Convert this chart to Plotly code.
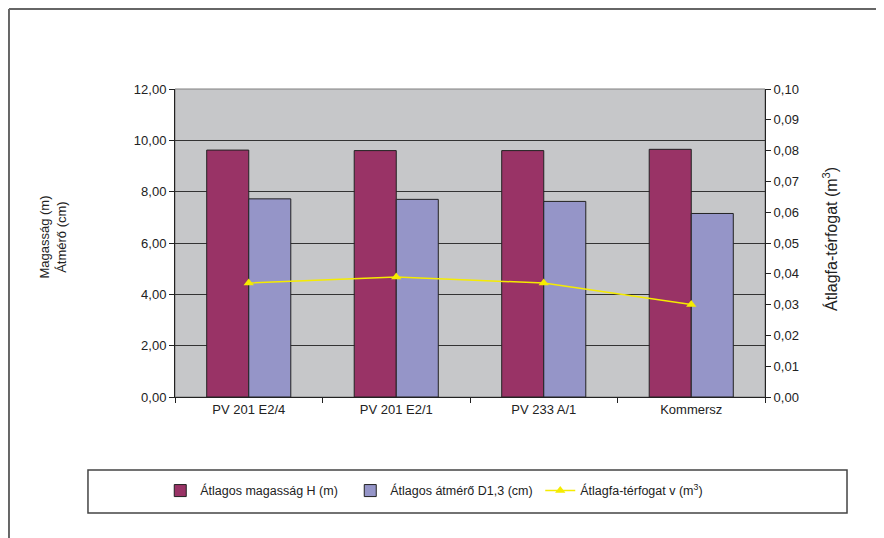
import plotly.graph_objects as go

# === Data ===
categories = ['PV 201 E2/4', 'PV 201 E2/1', 'PV 233 A/1', 'Kommersz']
magassag = [9.62, 9.60, 9.60, 9.65]       # Átlagos magasság H (m)
atmero = [7.72, 7.70, 7.62, 7.15]         # Átlagos átmérő D1,3 (cm)
terfogat = [0.037, 0.039, 0.037, 0.030]   # Átlagfa-térfogat v (m3)

FONT = "Liberation Sans, Arial, sans-serif"

fig = go.Figure()

fig.add_trace(go.Bar(
    x=categories, y=magassag, name='Átlagos magasság H (m)',
    marker=dict(color='#993366', line=dict(color='#222222', width=1)),
))
fig.add_trace(go.Bar(
    x=categories, y=atmero, name='Átlagos átmérő D1,3 (cm)',
    marker=dict(color='#9595C8', line=dict(color='#222222', width=1)),
))
fig.add_trace(go.Scatter(
    x=categories, y=terfogat, name='Átlagfa-térfogat v (m<sup>3</sup>)',
    mode='lines+markers', yaxis='y2',
    line=dict(color='#F5EC00', width=1.5),
    marker=dict(symbol='triangle-up', size=9, color='#F5EC00'),
))

# chart frame (left + top), legend box, plot area border
shapes = [
    dict(type='line', xref='paper', yref='paper', x0=-0.2814, x1=-0.2814, y0=-0.6, y1=1.2597,
         line=dict(color='#666666', width=2)),
    dict(type='line', xref='paper', yref='paper', x0=-0.2814, x1=1.3, y0=1.2597, y1=1.2597,
         line=dict(color='#666666', width=2)),
    dict(type='rect', xref='paper', yref='paper', x0=-0.1475, x1=1.139, y0=-0.3766, y1=-0.237,
         line=dict(color='#444444', width=1.5)),
    dict(type='rect', xref='paper', yref='paper', x0=0, x1=1, y0=0, y1=1,
         line=dict(color='#808080', width=1), layer='below'),
]

annotations = [
    dict(text='Magasság (m)<br>Átmérő (cm)', textangle=-90, xref='paper', yref='paper',
         x=-0.2060, y=0.519, xanchor='center', yanchor='middle', showarrow=False,
         font=dict(size=13)),
    dict(text='Átlagfa-térfogat (m<sup>3</sup>)', textangle=-90, xref='paper', yref='paper',
         x=1.110, y=0.513, xanchor='center', yanchor='middle', showarrow=False,
         font=dict(size=16)),
]

fig.update_layout(
    width=876, height=530,
    margin=dict(l=167, r=119, t=81, b=141),
    paper_bgcolor='white', plot_bgcolor='#C6C7C9',
    separators=',.',
    font=dict(family=FONT, size=13, color='#222222'),
    barmode='group', bargap=0.43, bargroupgap=0,
    showlegend=True,
    legend=dict(orientation='h', x=-0.025, xanchor='left', y=-0.305, yanchor='middle',
                entrywidth=145, bgcolor='rgba(0,0,0,0)', font=dict(size=12.5)),
    shapes=shapes,
    annotations=annotations,
    xaxis=dict(showline=True, linecolor='#222222', ticks='outside', tickson='boundaries',
               ticklen=5, tickcolor='#222222', showgrid=False, tickfont=dict(size=13)),
    yaxis=dict(range=[0, 12], dtick=2, tickformat='.2f', showline=True, linecolor='#222222',
               ticks='outside', ticklen=5, tickcolor='#222222',
               showgrid=True, gridcolor='#333333', gridwidth=1, zeroline=False,
               tickfont=dict(size=13)),
    yaxis2=dict(range=[0, 0.1], dtick=0.01, tickformat='.2f', overlaying='y', side='right',
                showline=True, linecolor='#222222', ticks='outside', ticklen=5,
                tickcolor='#222222', showgrid=False, zeroline=False, tickfont=dict(size=13)),
)

fig.write_html("out.html")
